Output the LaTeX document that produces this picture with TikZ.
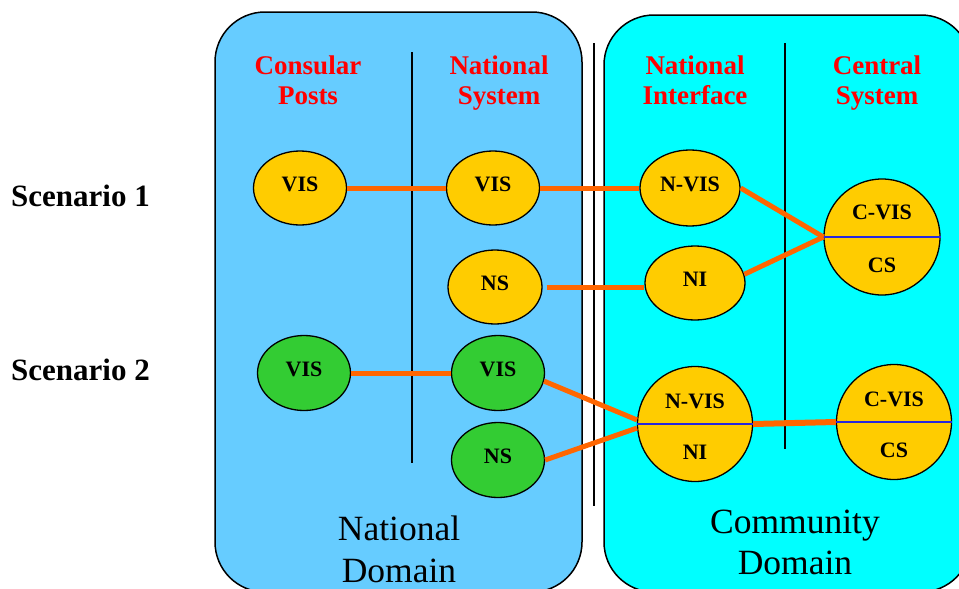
\documentclass[tikz,border=0pt]{standalone}
\usepackage{fontspec}
\setmainfont{Liberation Serif}
\usetikzlibrary{shapes.geometric}

\definecolor{natblue}{RGB}{102,204,255}
\definecolor{commcyan}{RGB}{0,255,255}
\definecolor{sysyellow}{RGB}{255,204,0}
\definecolor{sysgreen}{RGB}{51,204,51}
\definecolor{linkorange}{RGB}{255,102,0}
\definecolor{headred}{RGB}{255,0,0}
\definecolor{splitblue}{RGB}{40,40,220}

\begin{document}
\begin{tikzpicture}[x=1pt,y=-1pt,
  domainbox/.style={draw=black,line width=1.5pt,rounded corners=50pt},
  divider/.style={draw=black,line width=1.2pt},
  heading/.style={anchor=base,text=headred,inner sep=0pt,
    font=\fontsize{27}{30}\selectfont\bfseries},
  scen/.style={anchor=base west,inner sep=0pt,
    font=\fontsize{31}{34}\selectfont\bfseries},
  domlabel/.style={anchor=base,inner sep=0pt,
    font=\fontsize{35.5}{41}\selectfont},
  sysnode/.style={ellipse,draw=black,line width=1.3pt,
    minimum width=93pt,minimum height=74pt,inner sep=0pt,text depth=8pt,
    font=\fontsize{22}{24}\selectfont\bfseries},
  firstscen/.style={fill=sysyellow},
  secondscen/.style={fill=sysgreen},
  splitnode/.style={circle,draw=black,line width=1.3pt,fill=sysyellow,
    minimum size=116pt,inner sep=0pt},
  celltext/.style={inner sep=0pt,font=\fontsize{22}{24}\selectfont\bfseries},
  link/.style={draw=linkorange,line width=5pt},
  splitline/.style={draw=splitblue,line width=1.5pt}
]
\useasboundingbox (0,0) rectangle (959,589);
\fill[white] (0,0) rectangle (959,589);

% domains
\path[domainbox,fill=natblue] (215,12) rectangle (582,592);
\path[domainbox,fill=commcyan] (604,15) rectangle (971,592);

% column separators
\draw[divider] (412,52) -- (412,463);
\draw[divider] (785,43) -- (785,449);
\draw[divider] (594,43) -- (594,506);

% column headings
\node[heading] (cpA) at (308,74) {Consular};
\node[heading] (cpB) at (308,104) {Posts};
\node[heading] (nsA) at (499,74) {National};
\node[heading] (nsB) at (499,104) {System};
\node[heading] (niA) at (695,74) {National};
\node[heading] (niB) at (695,104) {Interface};
\node[heading] (csA) at (877,74) {Central};
\node[heading] (csB) at (877,104) {System};

% scenario labels
\node[scen] (sc1) at (11,206) {Scenario 1};
\node[scen] (sc2) at (11,380) {Scenario 2};

% scenario 1
\node[sysnode,firstscen] (cpvis1) at (300,188) {VIS};
\node[sysnode,firstscen] (nsvis1) at (493,188) {VIS};
\node[sysnode,firstscen,minimum width=94pt] (ns1) at (495,287) {NS};
\node[sysnode,firstscen,minimum width=100pt,minimum height=76pt] (nvis1) at (690,188) {N-VIS};
\node[sysnode,firstscen,minimum width=100pt] (ni1) at (695,283) {NI};
\node[splitnode] (cs1) at (882,237) {};
\draw[splitline] (cs1.west) -- (cs1.east);
\node[celltext] (cs1top) at ([yshift=25pt]cs1.center) {C-VIS};
\node[celltext] (cs1bot) at ([yshift=-28pt]cs1.center) {CS};

% scenario 2
\node[sysnode,secondscen,minimum height=75pt] (cpvis2) at (304,373) {VIS};
\node[sysnode,secondscen,minimum height=75pt] (nsvis2) at (498,373) {VIS};
\node[sysnode,secondscen,minimum height=75pt] (ns2) at (498,460) {NS};
\node[splitnode,minimum size=115pt] (ni2) at (695,424) {};
\draw[splitline] (ni2.west) -- (ni2.east);
\node[celltext] (ni2top) at ([yshift=23pt]ni2.center) {N-VIS};
\node[celltext] (ni2bot) at ([yshift=-28pt]ni2.center) {NI};
\node[splitnode,minimum size=115pt] (cs2) at (894,422) {};
\draw[splitline] (cs2.west) -- (cs2.east);
\node[celltext] (cs2top) at ([yshift=23pt]cs2.center) {C-VIS};
\node[celltext] (cs2bot) at ([yshift=-28pt]cs2.center) {CS};

% links, scenario 1
\draw[link] (cpvis1.east) -- (nsvis1.west);
\draw[link] (nsvis1.east) -- (nvis1.west);
\draw[link] ([xshift=4pt]ns1.east) -- (ns1.east -| ni1.west);
\draw[link] (nvis1.east) -- (cs1.west);
\draw[link] (ni1.10) -- (cs1.west);

% links, scenario 2
\draw[link] (cpvis2.east) -- (nsvis2.west);
\draw[link] (nsvis2.-10) -- (ni2.176);
\draw[link] (ns2.east) -- (ni2.184);
\draw[link,line width=6pt] (ni2.east) -- (cs2.west);

% domain names
\node[domlabel] (ndA) at (399,540) {National};
\node[domlabel] (ndB) at (399,582) {Domain};
\node[domlabel] (cdA) at (795,533) {Community};
\node[domlabel] (cdB) at (795,574) {Domain};
\end{tikzpicture}
\end{document}
